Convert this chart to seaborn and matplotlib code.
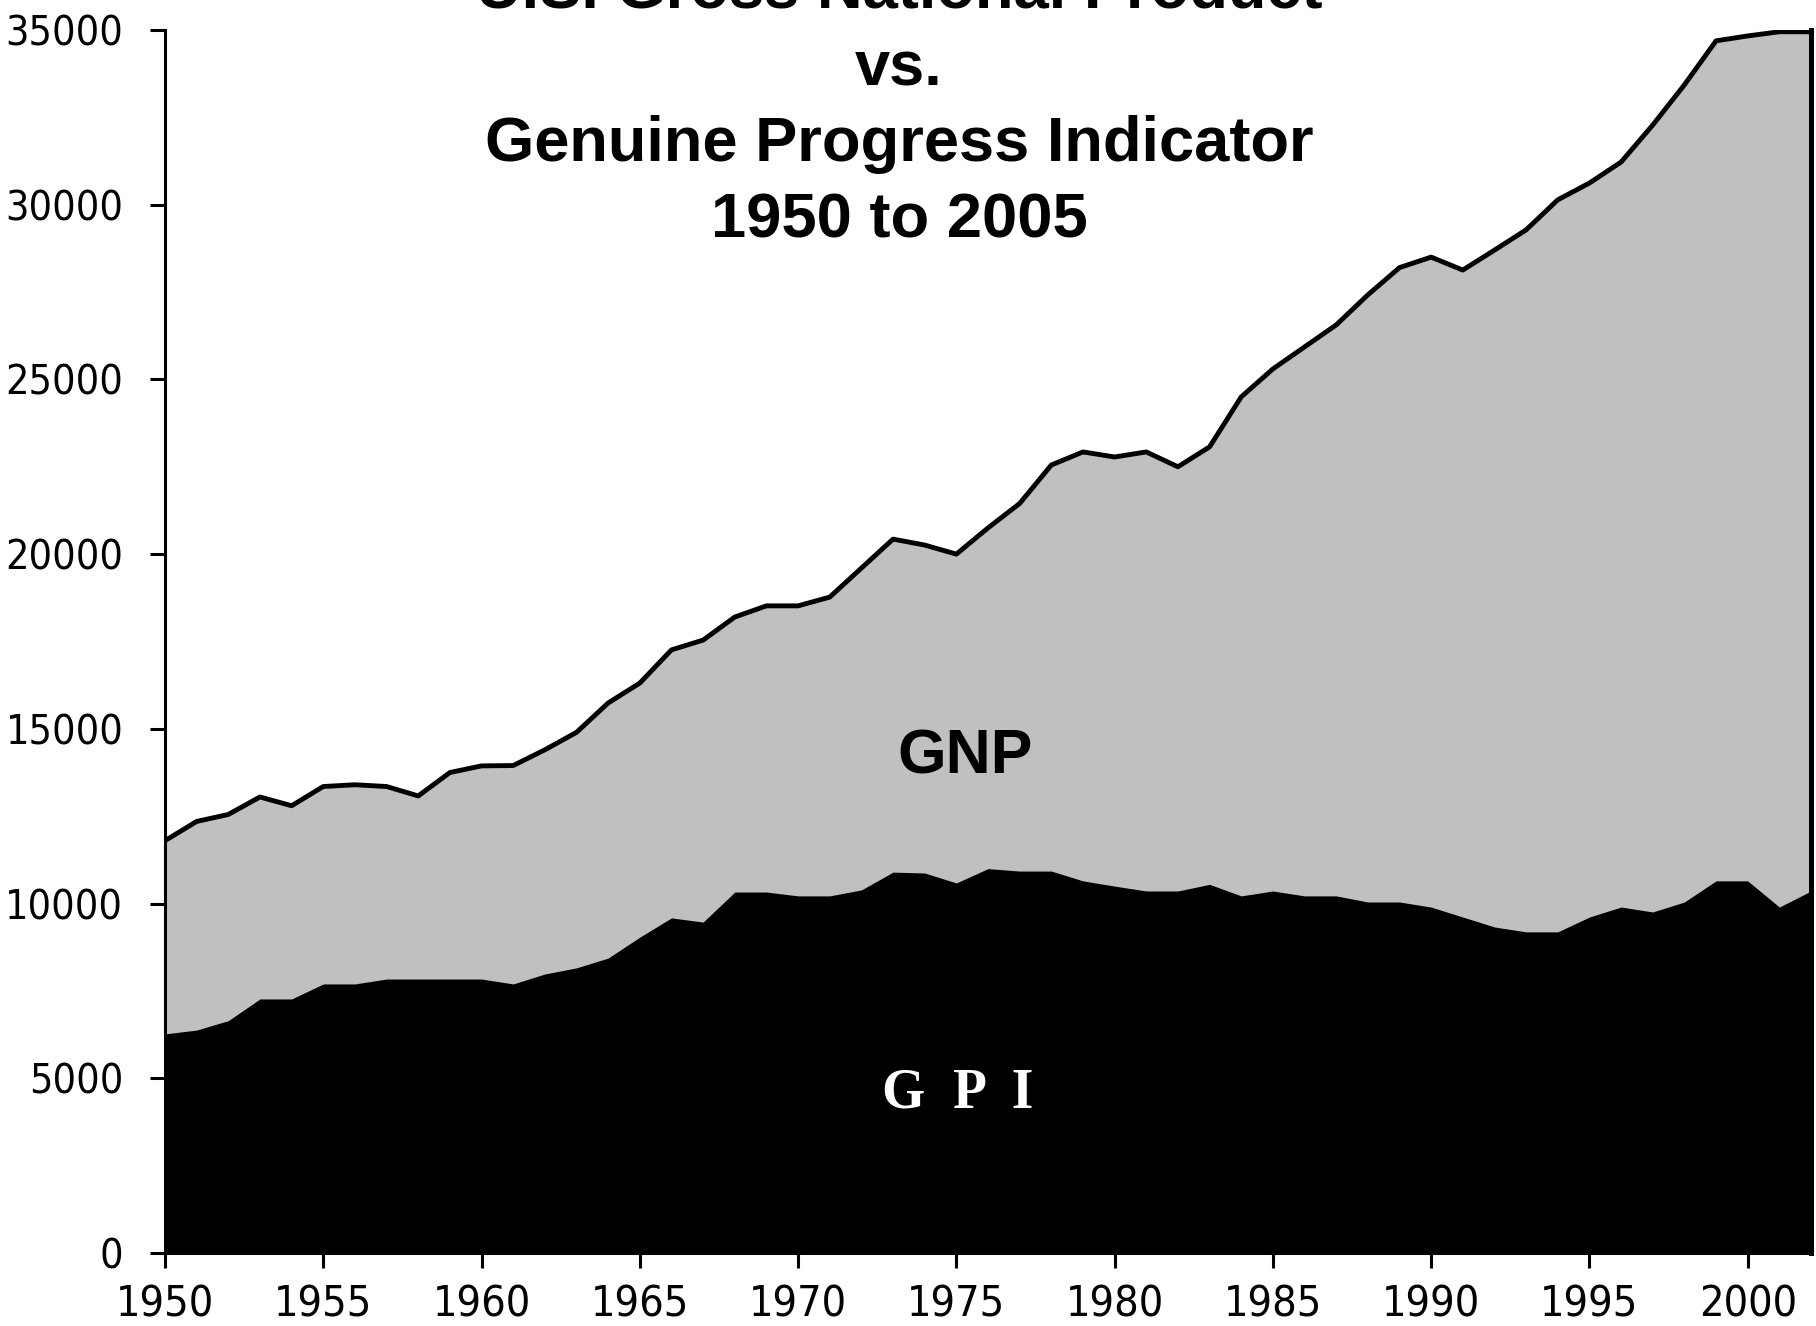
import matplotlib
matplotlib.use('Agg')
import matplotlib.pyplot as plt
import seaborn as sns
import pandas as pd

# GNP vs GPI per capita, 1950-2002
years = list(range(1950, 2003))
gnp = [11800, 12350, 12550, 13050, 12800, 13350, 13400, 13350, 13080, 13750,
       13940, 13950, 14400, 14900, 15740, 16310, 17260, 17540, 18200, 18520,
       18520, 18770, 19600, 20430, 20260, 20000, 20750, 21450, 22550, 22925,
       22780, 22925, 22500, 23070, 24500, 25300, 25930, 26560, 27420, 28200,
       28500, 28130, 28700, 29280, 30140, 30620, 31220, 32280, 33430, 34690,
       34830, 34950, 34950]
gpi = [6270, 6380, 6650, 7270, 7270, 7700, 7700, 7840, 7840, 7840,
       7840, 7700, 7985, 8160, 8440, 9040, 9590, 9470, 10330, 10330,
       10220, 10220, 10390, 10900, 10875, 10590, 11000, 10930, 10930, 10650,
       10500, 10360, 10360, 10550, 10220, 10360, 10220, 10220, 10045, 10045,
       9900, 9615, 9330, 9190, 9190, 9615, 9900, 9760, 10045, 10650,
       10650, 9900, 10360]
title_lines = ['U.S. Gross National Product', 'vs.',
               'Genuine Progress Indicator', '1950 to 2005']
yticks = [0, 5000, 10000, 15000, 20000, 25000, 30000, 35000]
xticks = [1950, 1955, 1960, 1965, 1970, 1975, 1980, 1985, 1990, 1995, 2000]

df = pd.DataFrame({'year': years, 'gnp': gnp, 'gpi': gpi})

sns.set_style('white')
plt.rcParams['font.family'] = ['Liberation Sans', 'DejaVu Sans']
plt.rcParams['text.color'] = 'black'

W, H = 1816, 1326
fig = plt.figure(figsize=(W / 100, H / 100), dpi=100)
ax = fig.add_axes([165 / W, (H - 1253) / H, (1811 - 165) / W, (1253 - 30) / H])

# grey GNP area with black outline, black GPI area on top
ax.fill_between(df['year'], 0, df['gnp'], color='#c0c0c0', lw=0, zorder=1)
sns.lineplot(x='year', y='gnp', data=df, color='black', lw=3.5, ax=ax, zorder=2)
ax.fill_between(df['year'], 0, df['gpi'], color='black', lw=0, zorder=3)

ax.set_xlim(1950, 2002)
ax.set_ylim(0, 35000)
ax.set_xticks(xticks)
ax.set_yticks(yticks)
ax.set_xlabel('')
ax.set_ylabel('')

# narrow tick labels
ax.set_xticklabels([str(t) for t in xticks], family='DejaVu Sans',
                   stretch='condensed', fontsize=31, color='black')
ax.set_yticklabels([str(t) for t in yticks], family='DejaVu Sans',
                   stretch='condensed', fontsize=29.5, color='black')
ax.tick_params(axis='y', left=True, length=11, width=2.2, color='black', pad=19)
ax.tick_params(axis='x', bottom=True, length=11, width=2.2, color='black', pad=11)

ax.spines['top'].set_visible(False)
ax.spines['left'].set_linewidth(2.2)
ax.spines['right'].set_linewidth(3.6)
ax.spines['bottom'].set_linewidth(2.2)
for s in ['left', 'right', 'bottom']:
    ax.spines[s].set_color('black')
    ax.spines[s].set_zorder(5)

# title, first line runs off the top of the image
baselines = [8, 85, 161, 237]
for line, b in zip(title_lines, baselines):
    fig.text(899 / W, 1 - b / H, line, ha='center', va='baseline',
             fontsize=45.5, fontweight='bold', color='black')

fig.text(965 / W, 1 - 773 / H, 'GNP', fontsize=45, fontweight='bold',
         ha='center', va='baseline', color='black', zorder=6)
fig.text(958 / W, 1 - 1107 / H, 'G  P  I', fontsize=40, fontweight='bold',
         family=['Liberation Serif', 'DejaVu Serif'], ha='center', va='baseline',
         color='white', zorder=6)

fig.savefig('out.png', dpi=100)
